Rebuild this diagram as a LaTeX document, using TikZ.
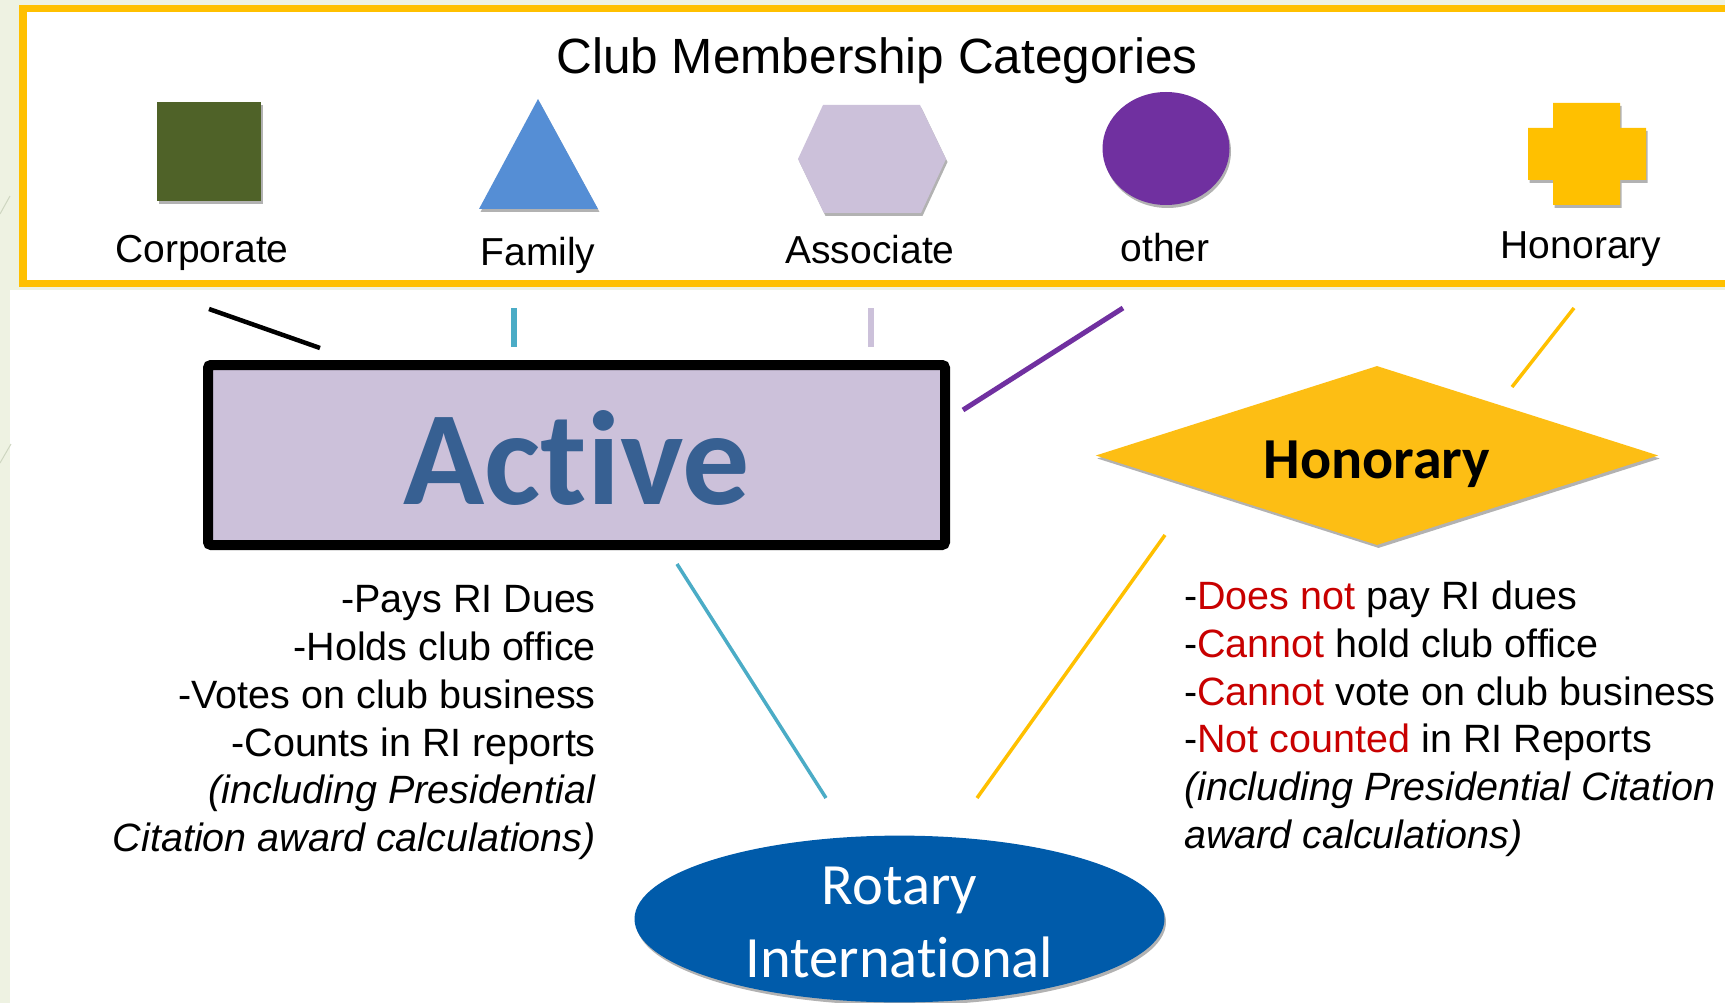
\documentclass[tikz,border=0pt]{standalone}
\usepackage{fontspec}
\setmainfont{Liberation Sans}
\newfontfamily\calibri[Ligatures={NoCommon,NoRare,NoDiscretionary}]{Carlito}
\usetikzlibrary{shapes.geometric,shadows}

\definecolor{slidebg}{RGB}{238,242,226}
\definecolor{decor}{RGB}{206,214,192}
\definecolor{gold}{RGB}{255,192,0}
\definecolor{diamondgold}{RGB}{253,190,20}
\definecolor{olive}{RGB}{79,98,40}
\definecolor{skyblue}{RGB}{85,142,213}
\definecolor{lavender}{RGB}{204,193,218}
\definecolor{plum}{RGB}{112,48,160}
\definecolor{tealline}{RGB}{75,172,198}
\definecolor{navytext}{RGB}{55,96,146}
\definecolor{rotaryblue}{RGB}{0,91,170}
\definecolor{warnred}{RGB}{200,0,0}

\tikzset{
  softshadow/.style={drop shadow={shadow xshift=1.5pt, shadow yshift=-3pt, opacity=.3, fill=black}},
  catlabel/.style={font=\fontsize{39}{47}\selectfont, anchor=base, inner sep=0pt},
  notes/.style={font=\fontsize{39.5}{47.8}\selectfont, inner sep=0pt},
  stub/.style={line cap=butt},
}
\newcommand{\warnword}[1]{\textcolor{warnred}{#1}}

\begin{document}
\begin{tikzpicture}[x=1pt,y=-1pt]
\useasboundingbox (0,0) rectangle (1725,1003);

% slide background and white panel
\fill[slidebg] (0,0) rectangle (1725,1003);
\fill[white] (10,290) rectangle (1725,1003);
\draw[decor, line width=1pt] (0,214) -- (10,196);
\draw[decor, line width=1pt] (0,463) -- (11,444);

% category frame
\node[draw=gold, line width=7.5pt, fill=white, minimum width=1722pt, minimum height=275pt,
      inner sep=0pt, softshadow] (frame) at (884,146.2) {};
\node[font=\fontsize{49.5}{59}\selectfont, anchor=base, inner sep=0pt] (title) at (877,73.2) {Club Membership Categories};

% category symbols
\node[fill=olive, minimum width=104pt, minimum height=99pt, inner sep=0pt, softshadow] (corporate) at (209,152) {};
\fill[skyblue, softshadow] (538,99) -- (598,209) -- (479,209) -- cycle;
\fill[lavender, softshadow] (823,105) -- (920,105) -- (946,159) -- (921,213) -- (824,213) -- (798,159) -- cycle;
\node[ellipse, fill=plum, minimum width=127pt, minimum height=113pt, inner sep=0pt, softshadow] (other) at (1166,148.5) {};
\fill[gold, softshadow] (1553,103) -- (1620,103) -- (1620,128) -- (1646,128) -- (1646,180) -- (1620,180)
  -- (1620,205) -- (1553,205) -- (1553,180) -- (1528,180) -- (1528,128) -- (1553,128) -- cycle;

\node[catlabel] (lcorp) at (202,262.7) {Corporate};
\node[catlabel] (lfam) at (538,265.7) {Family};
\node[catlabel] (lassoc) at (870,263.2) {Associate};
\node[catlabel] (lother) at (1165,261.2) {other};
\node[catlabel] (lhon) at (1581,258.7) {Honorary};

% main categories
\node[draw=black, line width=10pt, fill=lavender, rounded corners=3pt, minimum width=737pt,
      minimum height=180pt, inner sep=0pt, text height=98pt, text depth=0pt, softshadow, text=navytext,
      font=\calibri\bfseries\fontsize{134}{140}\selectfont] (active) at (576.5,455) {Active};
\node[diamond, fill=diamondgold, aspect=3.14, minimum width=562.5pt, minimum height=179pt,
      inner sep=0pt, text height=45.4pt, text depth=0pt, softshadow,
      font=\calibri\bfseries\fontsize{58}{64}\selectfont] (honorary) at (1377,455.5) {Honorary};
\node[ellipse, fill=rotaryblue, minimum width=530pt, minimum height=162pt, inner sep=0pt,
      softshadow, text=white, align=center,
      font=\calibri\fontsize{58.5}{73.5}\selectfont] (ri) at (899.5,919) {\rule{0pt}{44pt}Rotary\\International};

% stub connectors
\coordinate (k1a) at (209,309); \coordinate (k1b) at (320,348);
\coordinate (k2a) at (514,308); \coordinate (k2b) at (514,347);
\coordinate (k3a) at (871,308); \coordinate (k3b) at (871,347);
\coordinate (k4a) at (1123,308); \coordinate (k4b) at (963,410);
\coordinate (k5a) at (1574,308); \coordinate (k5b) at (1512,387);
\coordinate (k6a) at (677,564); \coordinate (k6b) at (826,798);
\coordinate (k7a) at (1165,535); \coordinate (k7b) at (977,798);
\draw[stub, black, line width=4.5pt] (k1a) -- (k1b);
\draw[stub, tealline, line width=6.5pt] (k2a) -- (k2b);
\draw[stub, lavender, line width=6.5pt] (k3a) -- (k3b);
\draw[stub, plum, line width=5pt] (k4a) -- (k4b);
\draw[stub, gold, line width=3.5pt] (k5a) -- (k5b);
\draw[stub, tealline, line width=3.5pt] (k6a) -- (k6b);
\draw[stub, gold, line width=3.5pt] (k7a) -- (k7b);

% member rules
\node[notes, align=right, anchor=north east] (activenotes) at (596,585.3) {%
-Pays RI Dues\\
-Holds club office\\
-Votes on club business\\
-Counts in RI reports\\
\textit{(including Presidential}\\
\textit{Citation award calculations)}};
\node[notes, align=left, anchor=north west] (honorarynotes) at (1184,580.7) {%
-\warnword{Does not} pay RI dues\\
-\warnword{Cannot} hold club office\\
-\warnword{Cannot} vote on club business\\
-\warnword{Not counted} in RI Reports\\
\textit{(including Presidential Citation}\\
\textit{award calculations)}};
\end{tikzpicture}
\end{document}
